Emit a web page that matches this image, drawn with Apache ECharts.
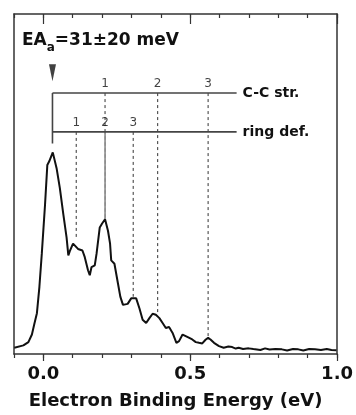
<!DOCTYPE html>
<html>
<head>
<meta charset="utf-8">
<script src="https://cdn.jsdelivr.net/npm/echarts@6/dist/echarts.min.js"></script>
<style>html,body{margin:0;padding:0;background:#fff}#c{width:356px;height:415px}</style>
</head>
<body>
<div id="c"></div>
<script>
// Photoelectron spectrum
const energy = [-0.099,-0.068,-0.051,-0.039,-0.031,-0.022,-0.0135,-0.0054,0.0057,0.0135,0.020,0.032,0.045,0.056,0.068,0.079,0.085,0.090,0.101,0.118,0.133,0.141,0.152,0.158,0.164,0.175,0.181,0.192,0.200,0.210,0.220,0.227,0.231,0.242,0.254,0.262,0.271,0.287,0.299,0.316,0.327,0.338,0.350,0.361,0.372,0.383,0.395,0.406,0.417,0.428,0.440,0.453,0.462,0.474,0.490,0.507,0.519,0.530,0.541,0.553,0.561,0.569,0.581,0.598,0.614,0.630,0.643,0.655,0.665,0.680,0.699,0.715,0.739,0.755,0.770,0.790,0.812,0.830,0.850,0.868,0.885,0.905,0.925,0.945,0.965,0.981,0.998];
const intensity = [6.3,8.7,12,19.7,30,41.3,68,101.3,151.3,191.3,195,204,188,168,141.3,118,99.7,104,111.7,106.3,104.7,98,84.7,79.7,88,89.7,101.3,128,132,136.3,124.7,112,94.7,91.3,71.3,58,49.7,50.7,56.3,56.3,46.3,34.7,31.3,36.3,40.7,39.7,36.3,31.3,26.3,27.3,21.3,11.3,13,19.7,17.3,14.7,12,11.3,10.7,14.7,16.3,14.7,11.3,8,6.3,7.5,7,5.5,6.3,5,5.7,5,4,5.7,4.5,5,4.7,3.5,5,4.7,3.5,5,4.7,4,5,4,3.7];

// Vibrational progressions
const eaEnergy = 0.031;
const combEnd = 0.658;
const ccLevel = 264;
const ringLevel = 224.7;
const eaLineBottom = 213;
const arrowLevel = 284.5;
const ccPos = [0.21, 0.389, 0.561];
const ccEnd = [136, 41, 16];
const ccNames = ['1', '2', '3'];
const ringPos = [0.112, 0.21, 0.306];
const ringEnd = [116, 136, 58];
const ringNames = ['1', '2', '3'];

// Axis
const xMin = -0.1, xMax = 1.0, yMax = 344;
const majorTicks = [0, 0.5, 1.0];
const xTitle = 'Electron Binding Energy (eV)';
const eaText = '{b|EA}{s|a}{b|=31±20 meV}';

const FONT = 'DejaVu Sans';
const frame = '#333';

const spectrum = energy.map((e, i) => [e, intensity[i]]);

function dashSeries(xs, top, ends) {
  return xs.map((x, i) => ({
    type: 'line', data: [[x, top], [x, ends[i]]], symbol: 'none', silent: true,
    lineStyle: { color: '#555', width: 1.2, type: [3, 3] }, z: 1
  }));
}
function numSeries(xs, top, names) {
  return {
    type: 'scatter', symbolSize: 0, silent: true,
    data: xs.map((x, i) => ({ value: [x, top], name: names[i] })),
    label: { show: true, position: 'top', distance: 3, formatter: p => p.name,
      fontFamily: FONT, fontSize: 12, color: '#111' }
  };
}
function combLine(level, text) {
  return {
    type: 'line', data: [[eaEnergy, level], [combEnd, level]], symbol: 'none', silent: true,
    lineStyle: { color: '#444', width: 1.6 },
    endLabel: { show: true, formatter: text, fontFamily: FONT, fontWeight: 'bold', fontSize: 14, color: '#111', distance: 6 }
  };
}

const baseX = { type: 'value', min: xMin, max: xMax, splitLine: { show: false } };
const line = (show) => ({ show: show, onZero: false, lineStyle: { color: frame, width: 1.5 } });

const option = {
  animation: false,
  backgroundColor: '#fff',
  grid: { left: 14, right: 17, top: 14, bottom: 57 },
  xAxis: [
    Object.assign({}, baseX, { position: 'bottom', interval: 0.1,
      axisLine: line(true),
      axisTick: { show: true, inside: false, length: 4, lineStyle: { color: frame, width: 1.2 } },
      axisLabel: { show: false } }),
    Object.assign({}, baseX, { position: 'bottom', interval: 0.1,
      axisLine: line(false),
      axisTick: { show: true, inside: false, length: 7, customValues: majorTicks, lineStyle: { color: frame, width: 1.2 } },
      axisLabel: { show: true, customValues: majorTicks, margin: 11, formatter: v => v.toFixed(1),
        fontFamily: FONT, fontWeight: 'bold', fontSize: 18, color: '#111' },
      name: xTitle, nameLocation: 'middle', nameGap: 38,
      nameTextStyle: { fontFamily: FONT, fontWeight: 'bold', fontSize: 18, color: '#111' } }),
    Object.assign({}, baseX, { position: 'top', interval: 0.1,
      axisLine: line(true),
      axisTick: { show: true, inside: true, length: 4, lineStyle: { color: frame, width: 1.2 } },
      axisLabel: { show: false } }),
    Object.assign({}, baseX, { position: 'top', interval: 0.1,
      axisLine: line(false),
      axisTick: { show: true, inside: true, length: 10, customValues: majorTicks, lineStyle: { color: frame, width: 1.2 } },
      axisLabel: { show: false } })
  ],
  yAxis: [
    { type: 'value', min: 0, max: yMax, position: 'left', splitLine: { show: false },
      axisLine: line(true), axisTick: { show: false }, axisLabel: { show: false } },
    { type: 'value', min: 0, max: yMax, position: 'right', splitLine: { show: false },
      axisLine: line(true), axisTick: { show: false }, axisLabel: { show: false } }
  ],
  graphic: [{
    type: 'text', left: 22, top: 32,
    style: {
      text: eaText,
      rich: {
        b: { fontFamily: FONT, fontWeight: 'bold', fontSize: 17, lineHeight: 26, fill: '#111', verticalAlign: 'middle' },
        s: { fontFamily: FONT, fontWeight: 'bold', fontSize: 12, lineHeight: 12, fill: '#111', verticalAlign: 'bottom' }
      }
    }
  }],
  series: [
    { type: 'line', data: spectrum, symbol: 'none', silent: true, z: 3,
      lineStyle: { color: '#111', width: 2 } },
    combLine(ccLevel, 'C-C str.'),
    combLine(ringLevel, 'ring def.'),
    { type: 'line', data: [[eaEnergy, ccLevel], [eaEnergy, eaLineBottom]], symbol: 'none', silent: true,
      lineStyle: { color: '#444', width: 1.6 } },
    ...dashSeries(ccPos, ccLevel, ccEnd),
    ...dashSeries(ringPos, ringLevel, ringEnd),
    numSeries(ccPos, ccLevel, ccNames),
    numSeries(ringPos, ringLevel, ringNames),
    { type: 'scatter', data: [[eaEnergy, arrowLevel]], symbol: 'triangle', symbolRotate: 180,
      symbolSize: [7, 17], silent: true, itemStyle: { color: '#111' } }
  ]
};
echarts.init(document.getElementById('c'), null, { renderer: 'canvas' }).setOption(option);
</script>
</body>
</html>
